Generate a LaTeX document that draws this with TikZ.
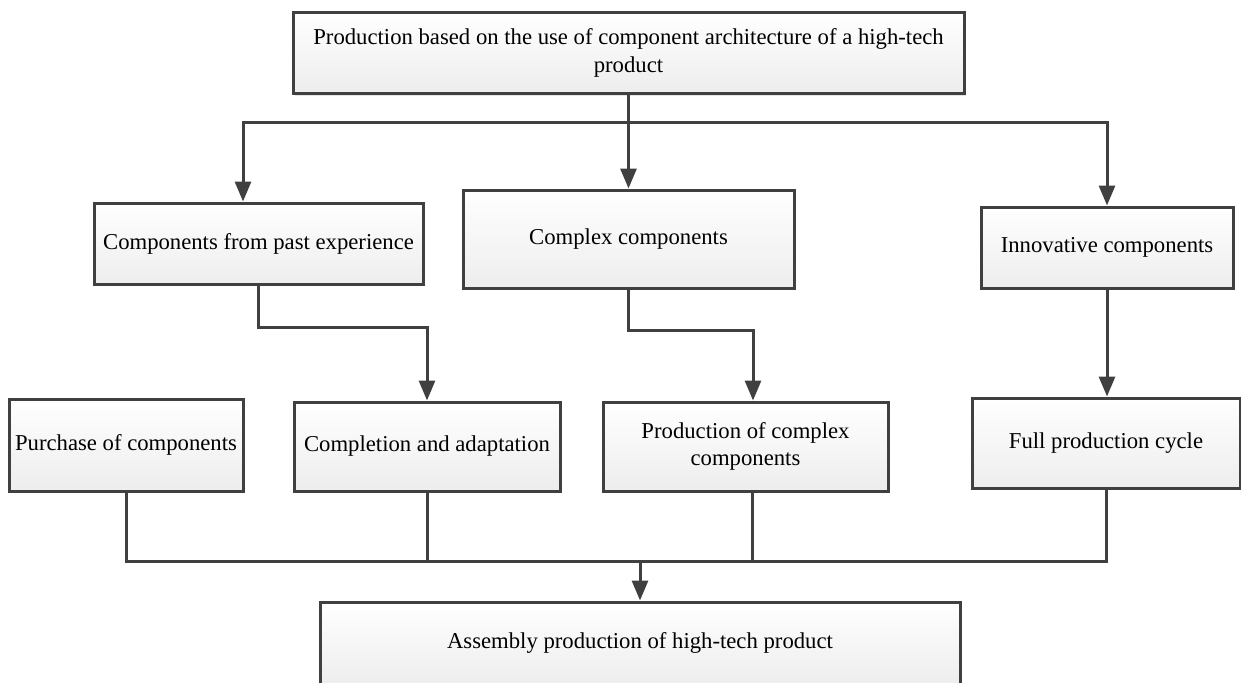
\documentclass[tikz,border=0pt]{standalone}
\usepackage{fontspec}
\setmainfont{Liberation Serif}
\usepackage{tikz}
\usetikzlibrary{arrows.meta,shadows}
\definecolor{edgegray}{HTML}{404040}
\tikzset{
  block/.style={draw=edgegray, line width=1.5pt, top color=white, bottom color=gray!14,
    align=center, inner sep=2pt, font=\fontsize{11.35}{13.6}\selectfont,
    drop shadow={shadow xshift=1.2pt, shadow yshift=-1.2pt, fill=gray!50, opacity=0.4}},
  link/.style={draw=edgegray, line width=1.5pt},
  arrowlink/.style={link, -{Triangle[length=10pt,width=8pt]}},
}

\begin{document}
\begin{tikzpicture}[x=0.5pt,y=-0.5pt,yscale=1,xscale=1]
\useasboundingbox (0,0) rectangle (1241,682);
%Boxes
\node [block, minimum width=335.5pt, minimum height=40.5pt] (top) at (628.5,53) {Production based on the use of component architecture of a high-tech\\product};
\node [block, minimum width=164.5pt, minimum height=40.5pt] (past) at (258.5,243.5) {Components from past experience};
\node [block, minimum width=165.5pt, minimum height=49pt] (complex) at (628.5,239) {Complex components};
\node [block, minimum width=126pt, minimum height=40.5pt] (innov) at (1107,247.5) {Innovative components};
\node [block, minimum width=117pt, minimum height=46pt] (purchase) at (126,445) {Purchase of components};
\node [block, minimum width=133pt, minimum height=44.5pt] (adapt) at (427,446.5) {Completion and adaptation};
\node [block, minimum width=142.5pt, minimum height=44.5pt] (prodcx) at (745.5,446.5) {Production of complex\\components};
\node [block, minimum width=134pt, minimum height=45pt] (cycle) at (1106,443) {Full production cycle};
\node [block, minimum width=320pt, minimum height=41pt] (assembly) at (640,643) {Assembly production of high-tech product};
%Connectors
\coordinate (busT) at (628.5,122);
\draw [arrowlink] (top.south) -- (complex.north);
\draw [arrowlink] (busT) -| ([xshift=-7.75pt]past.north);
\draw [arrowlink] (busT) -| (innov.north);
\draw [arrowlink] (past.south) -- ++(0,42) -| (adapt.north);
\draw [arrowlink] (complex.south) -- ++(0,41) -| ([xshift=3.75pt]prodcx.north);
\draw [arrowlink] (innov.south) -- (innov.south |- cycle.north);
\coordinate (busG) at (640,561);
\draw [link] (purchase.south) |- (busG) -| (cycle.south);
\draw [link] (adapt.south) -- (adapt.south |- busG);
\draw [link] ([xshift=3.25pt]prodcx.south) -- ++(0,70);
\draw [arrowlink] (busG) -- (assembly.north);
\end{tikzpicture}
\end{document}
